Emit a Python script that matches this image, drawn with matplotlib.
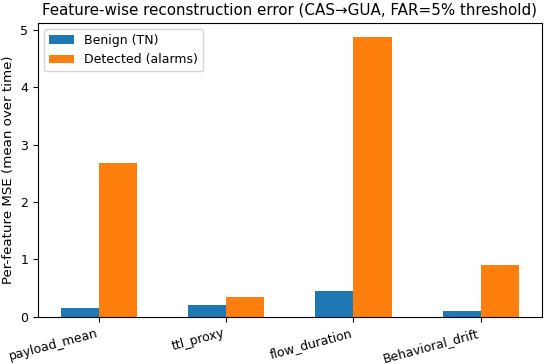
import numpy as np
import matplotlib.pyplot as plt

features = ['payload_mean', 'ttl_proxy', 'flow_duration', 'Behavioral_drift']
benign = [0.16, 0.21, 0.45, 0.10]
detected = [2.68, 0.35, 4.88, 0.90]


def graficar(features, benign, detected):
    fig, ax = plt.subplots(figsize=(5.5, 3.64), dpi=100)
    x = np.arange(len(features))
    w = 0.3
    ax.bar(x - w / 2, benign, w, label='Benign (TN)')
    ax.bar(x + w / 2, detected, w, label='Detected (alarms)')
    ax.set_xticks(x)
    ax.set_xticklabels(features, rotation=15, ha='right', fontsize=9)
    ax.tick_params(axis='y', labelsize=9)
    ax.set_ylabel('Per-feature MSE (mean over time)', fontsize=9.6)
    ax.set_title('Feature-wise reconstruction error (CAS\u2192GUA, FAR=5% threshold)', fontsize=10.9)
    ax.legend(fontsize=9, loc='upper left')
    fig.subplots_adjust(left=0.069, right=0.985, top=0.937, bottom=0.130)
    fig.savefig('out.png', dpi=100)


if __name__ == "__main__":
    graficar(features, benign, detected)
